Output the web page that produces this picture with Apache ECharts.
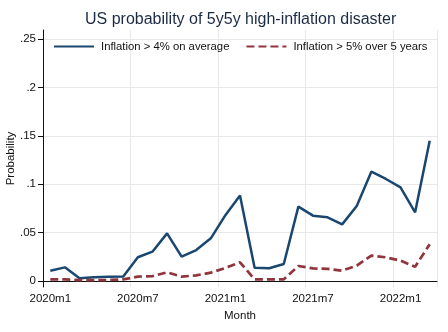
<!DOCTYPE html>
<html>
<head>
<meta charset="utf-8">
<script src="https://cdn.jsdelivr.net/npm/echarts@6/dist/echarts.min.js"></script>
<style>
  html, body { margin: 0; padding: 0; background: #fff; }
  #chart { width: 448px; height: 332px; }
</style>
</head>
<body>
<div id="chart"></div>
<script>
// months 2020m1 .. 2022m3
var months = ['2020m1', '2020m2', '2020m3', '2020m4', '2020m5', '2020m6',
    '2020m7', '2020m8', '2020m9', '2020m10', '2020m11', '2020m12',
    '2021m1', '2021m2', '2021m3', '2021m4', '2021m5', '2021m6',
    '2021m7', '2021m8', '2021m9', '2021m10', '2021m11', '2021m12',
    '2022m1', '2022m2', '2022m3'];
var above4 = [0.0106, 0.0141, 0.0028, 0.0038, 0.0045, 0.0046, 0.0245, 0.0303, 0.0492,
    0.0251, 0.032, 0.0441, 0.068, 0.0882, 0.0138, 0.0131, 0.0176, 0.0768,
    0.0675, 0.0658, 0.0585, 0.0775, 0.1129, 0.1054, 0.0968, 0.071, 0.145];
var above5 = [0.0017, 0.0017, 0.001, 0.001, 0.001, 0.0017, 0.0045, 0.005, 0.009,
    0.0045, 0.0058, 0.0086, 0.0135, 0.0193, 0.0017, 0.0017, 0.0017, 0.0155,
    0.013, 0.0125, 0.0107, 0.0158, 0.0262, 0.0245, 0.021, 0.0148, 0.038];
var yTicks = [0, 0.05, 0.1, 0.15, 0.2, 0.25];
var seriesNames = ['Inflation > 4% on average', 'Inflation > 5% over 5 years'];

var font = 'Liberation Sans, Arial, sans-serif';

var option = {
    backgroundColor: '#fff',
    animation: false,
    title: {
        text: 'US probability of 5y5y high-inflation disaster',
        left: 85,
        top: 12,
        padding: 0,
        textStyle: { color: '#1c2b45', fontSize: 16, fontWeight: 'normal', fontFamily: font }
    },
    legend: {
        data: seriesNames,
        left: 53,
        top: 41,
        padding: 0,
        itemWidth: 40,
        itemHeight: 12,
        itemGap: 16,
        itemStyle: { opacity: 0 },
        textStyle: { color: '#111', fontSize: 11.3, fontFamily: font, padding: [0, 0, 0, 2] }
    },
    grid: { left: 43, right: 11, top: 30, bottom: 45, outerBoundsMode: 'none' },
    xAxis: {
        type: 'category',
        data: months,
        boundaryGap: true,
        name: 'Month',
        nameLocation: 'middle',
        nameGap: 23,
        nameMoveOverlap: false,
        nameTextStyle: { color: '#111', fontSize: 11.5, fontFamily: font },
        axisLine: { lineStyle: { color: '#111', width: 1 } },
        axisTick: { alignWithLabel: true, interval: 5, length: 5, lineStyle: { color: '#111' } },
        axisLabel: { interval: 5, color: '#111', fontSize: 11.5, fontFamily: font, margin: 6 },
        splitLine: { show: true, interval: 5, lineStyle: { color: '#e8e8e8', width: 1 } }
    },
    yAxis: {
        type: 'value',
        min: -0.0062,
        max: 0.2593,
        name: 'Probability',
        nameLocation: 'middle',
        nameGap: 26,
        nameMoveOverlap: false,
        nameTextStyle: { color: '#111', fontSize: 11.5, fontFamily: font },
        axisLine: { show: true, lineStyle: { color: '#111', width: 1 } },
        axisTick: { show: true, length: 5, customValues: yTicks, lineStyle: { color: '#111' } },
        axisLabel: {
            color: '#111', fontSize: 11.5, fontFamily: font, margin: 7,
            customValues: yTicks,
            formatter: function (v) {
                return v === 0 ? '0' : String(+v.toFixed(2)).replace(/^0/, '');
            }
        },
        splitLine: { show: true, lineStyle: { color: '#e8e8e8', width: 1 } }
    },
    series: [
        {
            name: seriesNames[0],
            type: 'line',
            data: above4,
            symbol: 'none',
            lineStyle: { color: '#1a476f', width: 2.5 },
            itemStyle: { color: '#1a476f' }
        },
        {
            name: seriesNames[1],
            type: 'line',
            data: above5,
            symbol: 'none',
            lineStyle: { color: '#90353b', width: 2.7, type: [8, 4] },
            itemStyle: { color: '#90353b' }
        }
    ]
};
var myChart = echarts.init(document.getElementById('chart'));
myChart.setOption(option);
</script>
</body>
</html>
